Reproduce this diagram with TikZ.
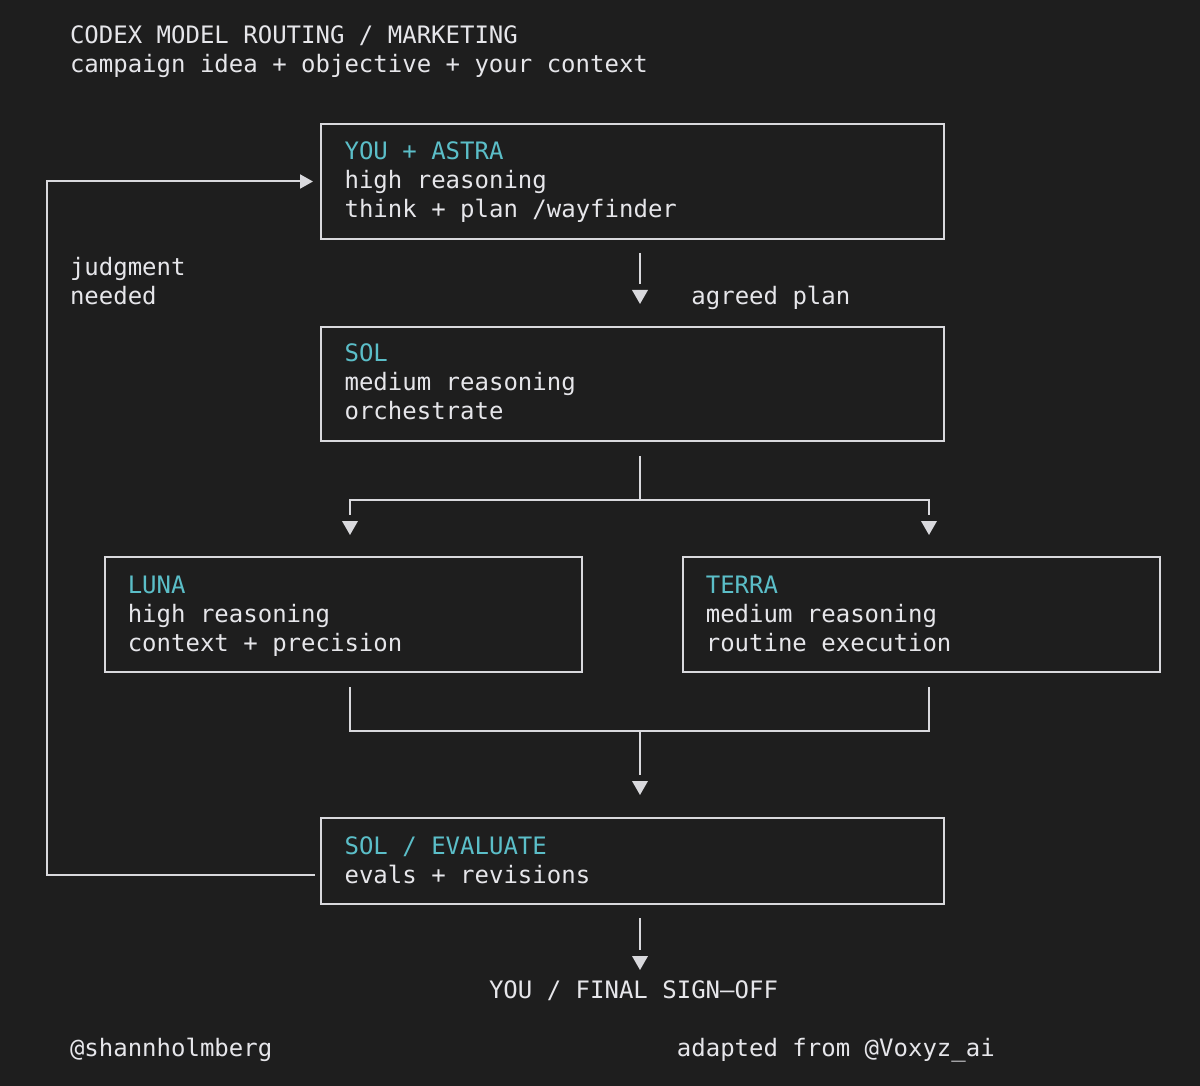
\documentclass[tikz,border=0pt]{standalone}
\usepackage{fontspec}
\setmonofont{DejaVu Sans Mono}
\usetikzlibrary{arrows.meta}
\definecolor{bg}{HTML}{1E1E1E}
\definecolor{fg}{HTML}{E6E6EA}
\definecolor{ln}{HTML}{D9D9DD}
\definecolor{hd}{HTML}{5BBEC8}
\begin{document}
\begin{tikzpicture}[x=1pt,y=-1pt,
  every node/.style={inner sep=0pt, outer sep=0pt},
  txt/.style={anchor=base west, text=fg, font=\ttfamily\fontsize{24}{29}\selectfont},
  head/.style={txt, text=hd},
  box/.style={draw=ln, line width=2pt, anchor=north west},
  wire/.style={draw=ln, line width=2pt},
  tipdown/.style={wire, -{Triangle[length=14pt,width=15.5pt]}},
  tipright/.style={wire, -{Triangle[length=13pt,width=14pt]}},
]
\fill[bg] (0,0) rectangle (1200,1086);
\useasboundingbox (0,0) rectangle (1200,1086);

% header
\node[txt] (title) at (70,43.5) {CODEX MODEL ROUTING / MARKETING};
\node[txt] (sub) at (70,72.45) {campaign idea + objective + your context};

% boxes
\node[box, minimum width=623pt, minimum height=115pt] (astra) at (321,124) {};
\node[box, minimum width=623pt, minimum height=114pt] (sol) at (321,327) {};
\node[box, minimum width=477pt, minimum height=115pt] (luna) at (105,557) {};
\node[box, minimum width=477pt, minimum height=115pt] (terra) at (683,557) {};
\node[box, minimum width=623pt, minimum height=86pt] (eval) at (321,818) {};

% box texts
\node[head] (astraA) at (344.6,159.3) {YOU + ASTRA};
\node[txt] (astraB) at (344.6,188.25) {high reasoning};
\node[txt] (astraC) at (344.6,217.2) {think + plan /wayfinder};

\node[head] (solA) at (344.6,361.95) {SOL};
\node[txt] (solB) at (344.6,390.9) {medium reasoning};
\node[txt] (solC) at (344.6,419.85) {orchestrate};

\node[head] (lunaA) at (127.8,593.55) {LUNA};
\node[txt] (lunaB) at (127.8,622.5) {high reasoning};
\node[txt] (lunaC) at (127.8,651.45) {context + precision};

\node[head] (terraA) at (705.8,593.55) {TERRA};
\node[txt] (terraB) at (705.8,622.5) {medium reasoning};
\node[txt] (terraC) at (705.8,651.45) {routine execution};

\node[head] (evalA) at (344.6,854.1) {SOL / EVALUATE};
\node[txt] (evalB) at (344.6,883.05) {evals + revisions};

% side labels
\node[txt] (judg) at (70,275.1) {judgment};
\node[txt] (need) at (70,304.05) {needed};
\node[txt] (agreed) at (691.4,304.05) {agreed plan};

\node[txt] (final) at (489,998.85) {YOU / FINAL SIGN—OFF};

\node[txt] (author) at (70,1056.75) {@shannholmberg};
\node[txt] (adapt) at (676.9,1056.75) {adapted from @Voxyz\_ai};

% junction coordinates
\coordinate (split) at (640,500);
\coordinate (join) at (640,731);
\coordinate (lb) at (350,500);
\coordinate (rb) at (929,500);

% astra -> sol
\draw[wire, shorten <=14pt, shorten >=43pt] (astra.south -| split) -- (sol.north -| split);
\draw[tipdown] ([yshift=37pt]sol.north -| split) -- ([yshift=23pt]sol.north -| split);

% sol -> luna / terra
\draw[wire, shorten <=15pt] (sol.south -| split) -- (split);
\draw[wire, shorten >=42pt] (split) -| (luna.north -| lb);
\draw[wire, shorten >=42pt] (split) -| (terra.north -| rb);
\draw[tipdown] ([yshift=36pt]luna.north -| lb) -- ([yshift=22pt]luna.north -| lb);
\draw[tipdown] ([yshift=36pt]terra.north -| rb) -- ([yshift=22pt]terra.north -| rb);

% luna / terra -> eval
\draw[wire, shorten <=15pt] (luna.south -| lb) |- (join);
\draw[wire, shorten <=15pt] (terra.south -| rb) |- (join);
\draw[wire, shorten >=43pt] (join) -- (eval.north -| join);
\draw[tipdown] ([yshift=37pt]eval.north -| join) -- ([yshift=23pt]eval.north -| join);

% eval -> final
\draw[wire, shorten <=14pt, shorten >=31pt] (eval.south -| join) -- (final.north -| join);
\draw[tipdown] ([yshift=25pt]final.north -| join) -- ([yshift=11pt]final.north -| join);

% feedback loop
\draw[tipright, shorten <=6pt, shorten >=8pt] ([yshift=-14pt]eval.west) -- ++(-274,0) |- (astra.west);
\end{tikzpicture}
\end{document}
